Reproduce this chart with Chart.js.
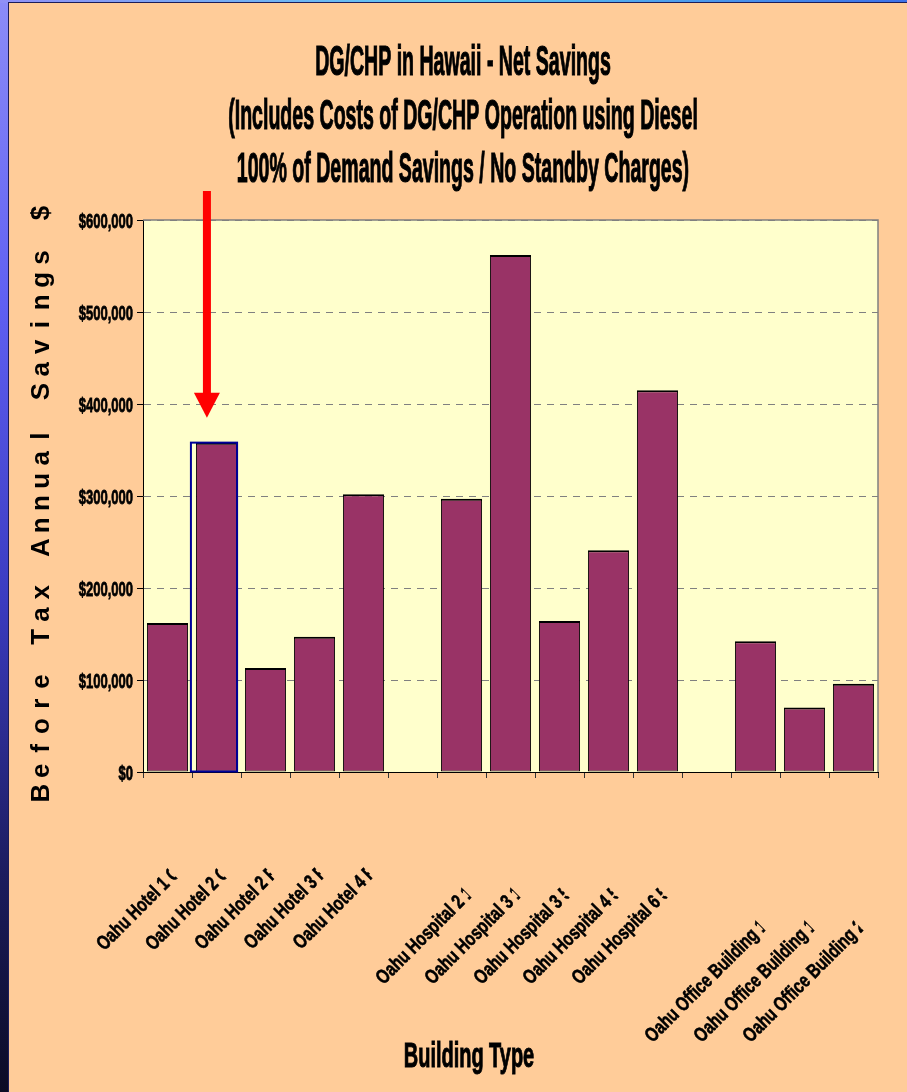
<!DOCTYPE html>
<html>
<head>
<meta charset="utf-8">
<script src="https://cdn.jsdelivr.net/npm/chart.js@4.4.0/dist/chart.umd.min.js"></script>
<style>
  html, body { margin: 0; padding: 0; }
  body {
    width: 907px; height: 1092px; overflow: hidden; position: relative;
    background: linear-gradient(180deg, #8c8cf8 0%, #5f5ff2 28%, #3b3bc0 55%, #1c1c5e 80%, #0b0b24 100%);
  }
  #topband {
    position: absolute; left: 0; top: 0; width: 907px; height: 3px;
    background: linear-gradient(90deg, #9090f6 0%, #5ccaf2 50%, #3c70e8 100%);
  }
  #edge { position: absolute; left: 8px; top: 2px; width: 899px; height: 1090px; background: #1c1c58; }
  #chart { position: absolute; left: 9px; top: 3px; background: #ffcc99; }
</style>
</head>
<body>
<div id="topband"></div>
<div id="edge"></div>
<canvas id="chart" width="898" height="1089"></canvas>
<script>
const categories = [
  'Oahu Hotel 1 C', 'Oahu Hotel 2 C', 'Oahu Hotel 2 P', 'Oahu Hotel 3 F', 'Oahu Hotel 4 F',
  '',
  'Oahu Hospital 2 1', 'Oahu Hospital 3 1', 'Oahu Hospital 3 5', 'Oahu Hospital 4 5', 'Oahu Hospital 6 5',
  '',
  'Oahu Office Building 1', 'Oahu Office Building 1', 'Oahu Office Building 2'
];
const netSavings = [
  162000, 358000, 113000, 147000, 302000,
  null,
  297000, 562000, 164000, 241000, 415000,
  null,
  142000, 70000, 96000
];
const yMin = 0;
const yMax = 600000;
const yStep = 100000;
const titleLines = [
  'DG/CHP in Hawaii - Net Savings',
  '(Includes Costs of DG/CHP Operation using Diesel',
  '100% of Demand Savings / No Standby Charges)'
];
const xTitle = 'Building Type';
const yTitle = 'Before Tax Annual Savings $';
const highlighted = 1; // Oahu Hotel 2

const FONT = "'Liberation Sans', Arial, sans-serif";

// condensed bold text: the horizontal squeeze gives the narrow face,
// a thin stroke makes it as heavy as the slide font
function narrowText(ctx, text, x, y, size, sx, align, weight) {
  ctx.save();
  ctx.font = 'bold ' + size + 'px ' + FONT;
  ctx.fillStyle = '#000';
  ctx.strokeStyle = '#000';
  ctx.textAlign = align;
  ctx.textBaseline = 'alphabetic';
  ctx.translate(x, y);
  ctx.scale(sx, 1);
  ctx.fillText(text, 0, 0);
  if (weight) {
    ctx.lineWidth = weight;
    ctx.strokeText(text, 0, 0);
  }
  ctx.restore();
}

const plotDecor = {
  id: 'plotDecor',
  beforeDraw(chart) {
    const { ctx, chartArea: a } = chart;
    ctx.save();
    ctx.fillStyle = '#ffffcc';
    ctx.fillRect(a.left, a.top, a.right - a.left, a.bottom - a.top);
    ctx.restore();
  },
  afterDatasetsDraw(chart) {
    const { ctx, chartArea: a } = chart;
    // grey frame on top and right
    ctx.save();
    ctx.strokeStyle = '#808080';
    ctx.lineWidth = 1.5;
    ctx.beginPath();
    ctx.moveTo(a.left, a.top);
    ctx.lineTo(a.right, a.top);
    ctx.lineTo(a.right, a.bottom);
    ctx.stroke();

    // outline and arrow on the highlighted bar
    const bar = chart.getDatasetMeta(0).data[highlighted];
    const left = bar.x - bar.width / 2;
    ctx.strokeStyle = '#000099';
    ctx.lineWidth = 2;
    ctx.strokeRect(left - 5, bar.y, bar.width + 5, bar.base - bar.y);

    const ax = left + 11;
    const tip = bar.y - 25;
    const tail = a.top - 29;
    ctx.fillStyle = '#ff0000';
    ctx.fillRect(ax - 4, tail, 8, tip - 25 - tail + 1);
    ctx.beginPath();
    ctx.moveTo(ax - 13, tip - 25);
    ctx.lineTo(ax + 13, tip - 25);
    ctx.lineTo(ax, tip);
    ctx.closePath();
    ctx.fill();
    ctx.restore();
  },
  afterDraw(chart) {
    const { ctx, chartArea: a, scales: { x, y } } = chart;
    const cx = chart.width / 2 + 5;

    // title
    const baselines = [72, 126, 179];
    titleLines.forEach((line, i) => narrowText(ctx, line, cx, baselines[i], 43, 0.455, 'center', 1.2));

    // value axis labels
    y.ticks.forEach((t, i) => {
      const py = y.getPixelForTick(i);
      narrowText(ctx, '$' + t.value.toLocaleString('en-US'), a.left - 10, py + 7.5, 21, 0.62, 'right', 0.8);
    });

    // category labels, slanted, last glyph cut in half
    const ang = 45 * Math.PI / 180;
    const size = 20, sx = 0.76, cap = 14;
    ctx.save();
    ctx.font = 'bold ' + size + 'px ' + FONT;
    categories.forEach((label, i) => {
      if (!label) return;
      const full = ctx.measureText(label).width;
      const last = ctx.measureText(label.slice(-1)).width;
      const vis = (full - last * 0.5) * sx;
      const cornerX = x.getPixelForTick(i);
      const cornerY = a.bottom + 0.93 * vis;
      const ox = cornerX + cap * Math.sin(ang);
      const oy = cornerY + cap * Math.cos(ang);
      ctx.save();
      ctx.translate(ox, oy);
      ctx.rotate(-ang);
      ctx.beginPath();
      ctx.rect(-vis - 4, -size * 1.2, vis + 4, size * 1.6);
      ctx.clip();
      ctx.scale(sx, 1);
      ctx.fillStyle = '#000';
      ctx.strokeStyle = '#000';
      ctx.lineWidth = 0.6;
      ctx.textAlign = 'left';
      ctx.textBaseline = 'alphabetic';
      ctx.fillText(label, -vis / sx, 0);
      ctx.strokeText(label, -vis / sx, 0);
      ctx.restore();
    });
    ctx.restore();

    // axis titles
    narrowText(ctx, xTitle, 460, 1064, 35, 0.57, 'center', 1);

    ctx.save();
    ctx.font = 'bold 26px ' + FONT;
    ctx.fillStyle = '#000';
    ctx.textAlign = 'center';
    ctx.textBaseline = 'alphabetic';
    ctx.translate(40, 0);
    ctx.rotate(-Math.PI / 2);
    const chars = yTitle.split('');
    const yFirst = 790, yLast = 210;
    const pitch = (yFirst - yLast) / (chars.length - 1);
    chars.forEach((ch, i) => {
      ctx.fillText(ch, -(yFirst - i * pitch), 0);
    });
    ctx.restore();
  }
};

new Chart(document.getElementById('chart'), {
  type: 'bar',
  data: {
    labels: categories,
    datasets: [{
      data: netSavings,
      backgroundColor: '#993366',
      borderColor: '#000000',
      borderWidth: { top: 2, left: 1, right: 1, bottom: 1 },
      borderSkipped: false,
      barPercentage: 0.84,
      categoryPercentage: 1
    }]
  },
  options: {
    responsive: false,
    devicePixelRatio: 1,
    animation: false,
    layout: { padding: { top: 217, right: 29, bottom: 0, left: 0 } },
    plugins: { legend: { display: false }, tooltip: { enabled: false }, title: { display: false } },
    scales: {
      x: {
        ticks: { display: false },
        grid: { offset: true, drawOnChartArea: false, drawTicks: true, tickLength: 6, tickColor: '#333', color: '#333' },
        border: { color: '#000', width: 1 },
        afterFit: (s) => { s.height = 320; }
      },
      y: {
        min: yMin,
        max: yMax,
        ticks: { display: false, stepSize: yStep },
        grid: {
          color: (c) => (c.tick && c.tick.value === 0 ? 'rgba(0,0,0,0)' : '#808080'),
          lineWidth: 1,
          drawTicks: true,
          tickLength: 6,
          tickColor: '#000'
        },
        border: { color: '#000', width: 1, dash: [7, 6] },
        afterFit: (s) => { s.width = 134; }
      }
    }
  },
  plugins: [plotDecor]
});
</script>
</body>
</html>
